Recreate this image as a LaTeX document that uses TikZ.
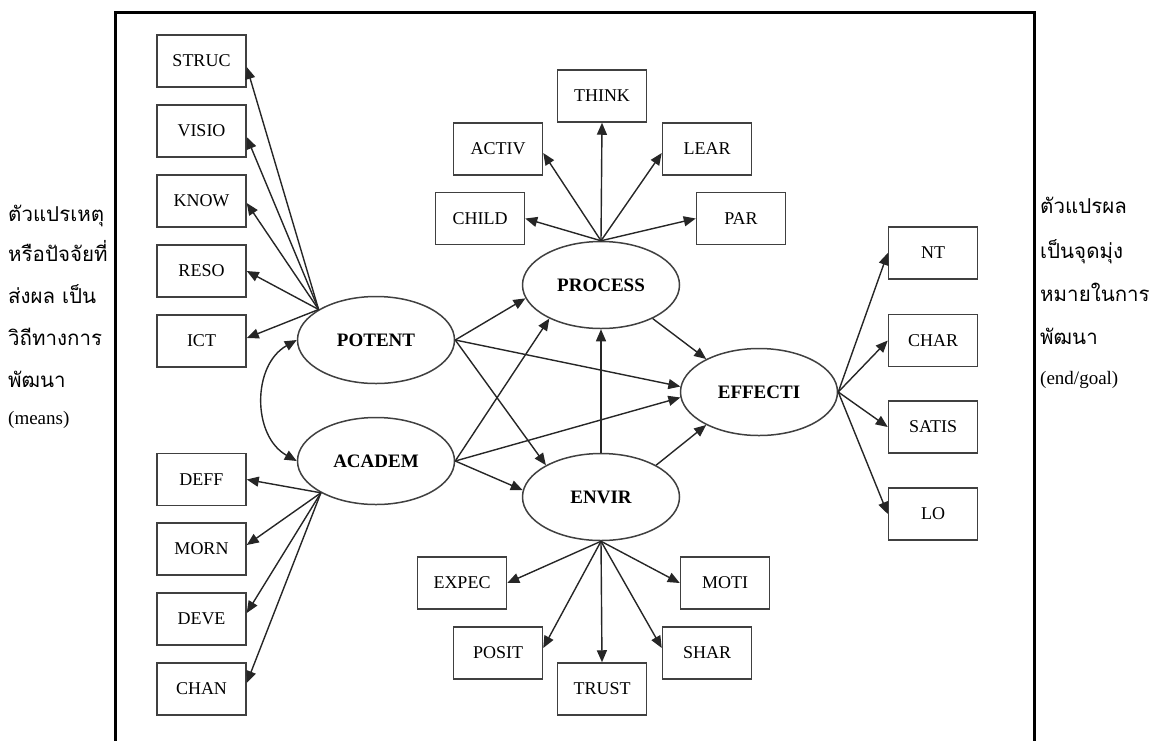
\documentclass[tikz,border=0pt]{standalone}
\usepackage{fontspec}
\setmainfont{Liberation Serif}
\newfontfamily\thaifont[Script=Thai]{Loma}
\usetikzlibrary{arrows.meta,shapes.geometric}
\begin{document}
\begin{tikzpicture}[x=1pt,y=-1pt,
 box/.style={draw=black!75,line width=1.5pt,minimum width=89pt,minimum height=52pt,inner sep=0pt,font=\fontsize{18}{20}\selectfont},
 lat/.style={ellipse,draw=black!75,line width=1.5pt,minimum width=157pt,minimum height=87pt,inner sep=0pt,font=\fontsize{19}{20}\selectfont\bfseries},
 arr/.style={draw=black!85,line width=1.4pt,-{Triangle[length=12pt,width=10pt]}},
 darr/.style={draw=black!85,line width=1.4pt,{Triangle[length=12pt,width=10pt]}-{Triangle[length=12pt,width=10pt]}},
 thai/.style={anchor=base west,font=\thaifont\fontsize{20.5}{22}\selectfont,inner sep=0pt},
 lat2/.style={anchor=base west,font=\fontsize{19}{22}\selectfont,inner sep=0pt},
]
\useasboundingbox (0,0) rectangle (1156,740);
\draw[line width=3pt] (115,742) -- (115,12) -- (1034,12) -- (1034,742);

% left boxes
\node[box] (STRUC) at (201.5,61) {STRUC};
\node[box] (VISIO) at (201.5,131) {VISIO};
\node[box] (KNOW) at (201.5,201) {KNOW};
\node[box] (RESO) at (201.5,271) {RESO};
\node[box] (ICT) at (201.5,341) {ICT};
\node[box] (DEFF) at (201.5,479.5) {DEFF};
\node[box] (MORN) at (201.5,549) {MORN};
\node[box] (DEVE) at (201.5,619) {DEVE};
\node[box] (CHAN) at (201.5,689) {CHAN};
% top boxes
\node[box] (THINK) at (602,96) {THINK};
\node[box] (ACTIV) at (498,149) {ACTIV};
\node[box] (LEAR) at (707,149) {LEAR};
\node[box] (CHILD) at (480,218.5) {CHILD};
\node[box] (PAR) at (741,218.5) {PAR};
% bottom boxes
\node[box] (EXPEC) at (462,583) {EXPEC};
\node[box] (MOTI) at (725,583) {MOTI};
\node[box] (POSIT) at (498,653) {POSIT};
\node[box] (SHAR) at (707,653) {SHAR};
\node[box] (TRUST) at (602,689) {TRUST};
% right boxes
\node[box] (NT) at (933,253) {NT};
\node[box] (CHAR) at (933,340.5) {CHAR};
\node[box] (SATIS) at (933,427) {SATIS};
\node[box] (LO) at (933,514) {LO};

% latent variables
\node[lat] (POTENT) at (376,340) {POTENT};
\node[lat] (ACADEM) at (376,461) {ACADEM};
\node[lat] (PROCESS) at (601,285) {PROCESS};
\node[lat] (ENVIR) at (601,497) {ENVIR};
\node[lat] (EFFECTI) at (759,392) {EFFECTI};

% POTENT indicators
\draw[arr] (POTENT.152) -- ([yshift=-6pt]STRUC.east);
\draw[arr] (POTENT.152) -- ([yshift=-6pt]VISIO.east);
\draw[arr] (POTENT.152) -- ([yshift=-2pt]KNOW.east);
\draw[arr] (POTENT.152) -- (RESO.east);
\draw[arr] (POTENT.152) -- ([yshift=3pt]ICT.east);
% ACADEM indicators
\draw[arr] (ACADEM.210) -- (DEFF.east);
\draw[arr] (ACADEM.210) -- ([yshift=4pt]MORN.east);
\draw[arr] (ACADEM.210) -- ([yshift=6pt]DEVE.east);
\draw[arr] (ACADEM.210) -- ([yshift=6pt]CHAN.east);
% PROCESS indicators
\draw[arr] (PROCESS.north) -- (THINK.south);
\draw[arr] (PROCESS.north) -- ([yshift=-4pt]ACTIV.east);
\draw[arr] (PROCESS.north) -- ([yshift=-4pt]LEAR.west);
\draw[arr] (PROCESS.north) -- (CHILD.east);
\draw[arr] (PROCESS.north) -- (PAR.west);
% ENVIR indicators
\draw[arr] (ENVIR.south) -- (EXPEC.east);
\draw[arr] (ENVIR.south) -- (MOTI.west);
\draw[arr] (ENVIR.south) -- ([yshift=5pt]POSIT.east);
\draw[arr] (ENVIR.south) -- ([yshift=5pt]SHAR.west);
\draw[arr] (ENVIR.south) -- (TRUST.north);
% EFFECTI indicators
\draw[arr] (EFFECTI.east) -- (NT.west);
\draw[arr] (EFFECTI.east) -- (CHAR.west);
\draw[arr] (EFFECTI.east) -- (SATIS.west);
\draw[arr] (EFFECTI.east) -- (LO.west);

% structural paths
\draw[darr] (POTENT.west) .. controls (252,365) and (252,436) .. (ACADEM.west);
\draw[arr] (POTENT.east) -- (PROCESS.190);
\draw[arr] (POTENT.east) -- (ENVIR.150);
\draw[arr] (POTENT.east) -- (EFFECTI.176);
\draw[arr] (ACADEM.east) -- (PROCESS.213);
\draw[arr] (ACADEM.east) -- (ENVIR.175);
\draw[arr] (ACADEM.east) -- (EFFECTI.184);
\draw[arr] (PROCESS.-33) -- (EFFECTI.148);
\draw[arr] (ENVIR.north) -- (PROCESS.south);
\draw[arr] (ENVIR.30) -- (EFFECTI.212);

% side texts
\node[thai] (L1) at (8,221) {ตัวแปรเหตุ};
\node[thai] (L2) at (8,261) {หรือปัจจัยที่};
\node[thai] (L3) at (8,303) {ส่งผล เป็น};
\node[thai] (L4) at (8,345) {วิถีทางการ};
\node[thai] (L5) at (8,387) {พัฒนา};
\node[lat2] (L6) at (8,424) {(means)};
\node[thai] (R1) at (1040,213) {ตัวแปรผล};
\node[thai] (R2) at (1040,258) {เป็นจุดมุ่ง};
\node[thai] (R3) at (1040,301) {หมายในการ};
\node[thai] (R4) at (1040,344) {พัฒนา};
\node[lat2] (R5) at (1040,384) {(end/goal)};
\end{tikzpicture}
\end{document}
